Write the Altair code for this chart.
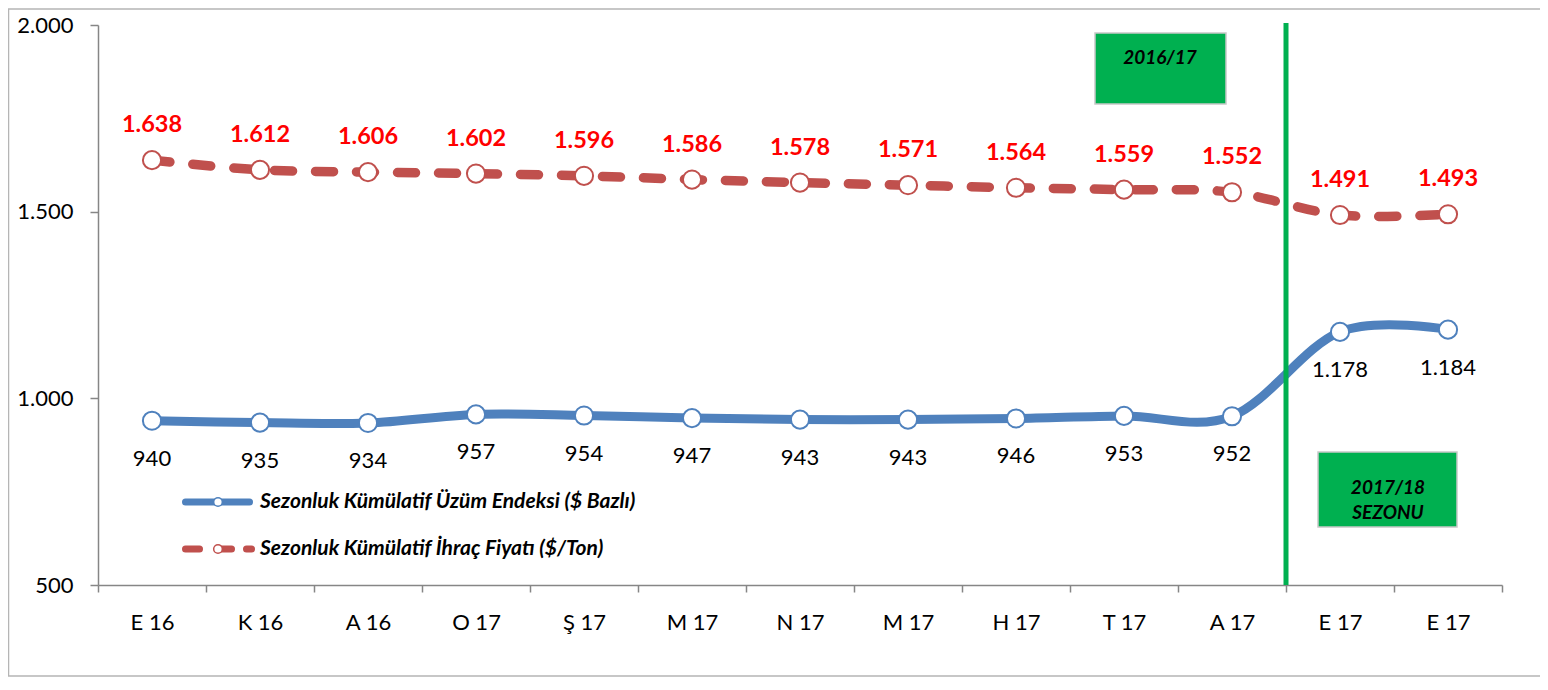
import altair as alt
import pandas as pd

# ---- data ----
months = ["E 16", "K 16", "A 16", "O 17", "Ş 17", "M 17", "N 17",
          "M 17", "H 17", "T 17", "A 17", "E 17", "E 17"]
ihrac_fiyati = [1638, 1612, 1606, 1602, 1596, 1586, 1578, 1571, 1564, 1559, 1552, 1491, 1493]
uzum_endeksi = [940, 935, 934, 957, 954, 947, 943, 943, 946, 953, 952, 1178, 1184]
y_ticks = [500, 1000, 1500, 2000]
season_split = [11]
legend_labels = ["Sezonluk Kümülatif Üzüm Endeksi ($ Bazlı)",
                 "Sezonluk Kümülatif İhraç Fiyatı ($/Ton)"]
box1_text = "2016/17"
box2_text = ["2017/18", "SEZONU"]


def tr(v):
    return f"{v:,}".replace(",", ".")


df_red = pd.DataFrame({"idx": list(range(len(months))), "v": ihrac_fiyati,
                       "lab": [tr(v) for v in ihrac_fiyati]})
df_blue = pd.DataFrame({"idx": list(range(len(months))), "v": uzum_endeksi,
                        "lab": [tr(v) for v in uzum_endeksi]})
df_split = pd.DataFrame({"idx": season_split, "v": [2000]})
one = pd.DataFrame({"k": [0]})

FONT = "Lato"
RED = "#C0504D"
BLUE = "#4F81BD"
GREEN = "#00B050"
AXIS_GREY = "#868686"

label_expr = "[" + ",".join(f"'{m}'" for m in months) + "][datum.value]"
xscale = alt.Scale(type="band", paddingInner=0, paddingOuter=0)
yscale = alt.Scale(domain=[500, 2000], nice=False, zero=False)

x_axis = alt.Axis(labelExpr=label_expr, tickBand="extent", labelAngle=0,
                  tickSize=7, tickColor=AXIS_GREY, domainColor=AXIS_GREY,
                  tickWidth=1.5, domainWidth=1.5,
                  labelFont=FONT, labelFontSize=22, labelColor="black",
                  labelPadding=20)
y_axis = alt.Axis(values=y_ticks, labelExpr="replace(format(datum.value, ','), ',', '.')",
                  grid=False, tickSize=8, tickColor=AXIS_GREY, domainColor=AXIS_GREY,
                  tickWidth=1.5, domainWidth=1.5,
                  labelFont=FONT, labelFontSize=22, labelColor="black", labelPadding=17)


def X(band=0.5):
    return alt.X("idx:O", scale=xscale, axis=x_axis, title=None, bandPosition=band)


def Y():
    return alt.Y("v:Q", scale=yscale, axis=y_axis, title=None)


# outer frame
frame = alt.Chart(one).mark_rect(fillOpacity=0, stroke="#b5b5b5", strokeWidth=1.5).encode(
    x=alt.value(-89.5), x2=alt.value(1480), y=alt.value(-16), y2=alt.value(651))

# lines
blue_line = alt.Chart(df_blue).mark_line(
    interpolate="cardinal", strokeWidth=9, color=BLUE, strokeCap="round").encode(
    x=X(), y=Y())
red_line = alt.Chart(df_red).mark_line(
    interpolate="cardinal", strokeWidth=9.5, color=RED, strokeCap="round",
    strokeDash=[18, 23]).encode(x=X(), y=Y())

# season split line
split = alt.Chart(df_split).mark_rule(color=GREEN, strokeWidth=5).encode(
    x=X(band=0), y=alt.value(-2), y2=alt.value(560))

# points
blue_pts = alt.Chart(df_blue).mark_circle(
    color="white", opacity=1, stroke=BLUE, strokeWidth=2, size=330).encode(x=X(), y=Y())
red_pts = alt.Chart(df_red).mark_circle(
    color="white", opacity=1, stroke=RED, strokeWidth=2, size=330).encode(x=X(), y=Y())

# value labels
red_lab = alt.Chart(df_red).mark_text(
    dy=-35, font=FONT, fontSize=23.5, fontWeight="bold", color="#FF0000").encode(
    x=X(), y=Y(), text="lab:N")
blue_lab = alt.Chart(df_blue).mark_text(
    dy=38, font=FONT, fontSize=22, color="black").encode(
    x=X(), y=Y(), text="lab:N")

# season boxes
box1 = alt.Chart(one).mark_rect(fill=GREEN, stroke="#c8c8c8", strokeWidth=1.5).encode(
    x=alt.value(997), x2=alt.value(1128), y=alt.value(8), y2=alt.value(79))
box1_t = alt.Chart(one).mark_text(
    text=box1_text, font=FONT, fontSize=19, fontWeight="bold", fontStyle="italic",
    color="black").encode(x=alt.value(1062), y=alt.value(33))
box2 = alt.Chart(one).mark_rect(fill=GREEN, stroke="#c8c8c8", strokeWidth=1.5).encode(
    x=alt.value(1220), x2=alt.value(1359), y=alt.value(427), y2=alt.value(502))
box2_t = alt.Chart(one).mark_text(
    text=box2_text, font=FONT, fontSize=19, fontWeight="bold", fontStyle="italic",
    color="black", lineHeight=25).encode(x=alt.value(1290), y=alt.value(462.5))

# legend (drawn inside the plot area)
lg_blue_line = alt.Chart(one).mark_rule(color=BLUE, strokeWidth=7, strokeCap="round").encode(
    x=alt.value(87.5), x2=alt.value(151.5), y=alt.value(477))
lg_blue_pt = alt.Chart(one).mark_circle(
    color="white", opacity=1, stroke=BLUE, strokeWidth=1.5, size=75).encode(
    x=alt.value(120), y=alt.value(477))
lg_red_1 = alt.Chart(one).mark_rule(color=RED, strokeWidth=7, strokeCap="round").encode(
    x=alt.value(87.5), x2=alt.value(101.5), y=alt.value(524))
lg_red_2 = alt.Chart(one).mark_rule(color=RED, strokeWidth=7, strokeCap="round").encode(
    x=alt.value(120), x2=alt.value(133.5), y=alt.value(524))
lg_red_3 = alt.Chart(one).mark_rule(color=RED, strokeWidth=7, strokeCap="round").encode(
    x=alt.value(148.5), x2=alt.value(153.5), y=alt.value(524))
lg_red_pt = alt.Chart(one).mark_circle(
    color="white", opacity=1, stroke=RED, strokeWidth=1.5, size=75).encode(
    x=alt.value(120), y=alt.value(524))
lg_t1 = alt.Chart(one).mark_text(
    text=legend_labels[0], font=FONT, fontSize=21, fontWeight="bold", fontStyle="italic",
    color="black", align="left").encode(x=alt.value(162), y=alt.value(477))
lg_t2 = alt.Chart(one).mark_text(
    text=legend_labels[1], font=FONT, fontSize=21, fontWeight="bold", fontStyle="italic",
    color="black", align="left").encode(x=alt.value(162), y=alt.value(524))

chart = alt.layer(
    blue_line, frame, box1, box1_t, box2, box2_t, red_line, split,
    blue_pts, red_pts, red_lab, blue_lab,
    lg_blue_line, lg_blue_pt, lg_red_1, lg_red_2, lg_red_3, lg_red_pt, lg_t1, lg_t2,
).properties(
    width=1404, height=560,
    autosize=alt.AutoSizeParams(type="none"),
    padding={"left": 90, "top": 17, "right": 38, "bottom": 93},
    background="white",
).configure_view(stroke="transparent")

chart.save("out.html", embed_options={"renderer": "svg", "actions": False})
